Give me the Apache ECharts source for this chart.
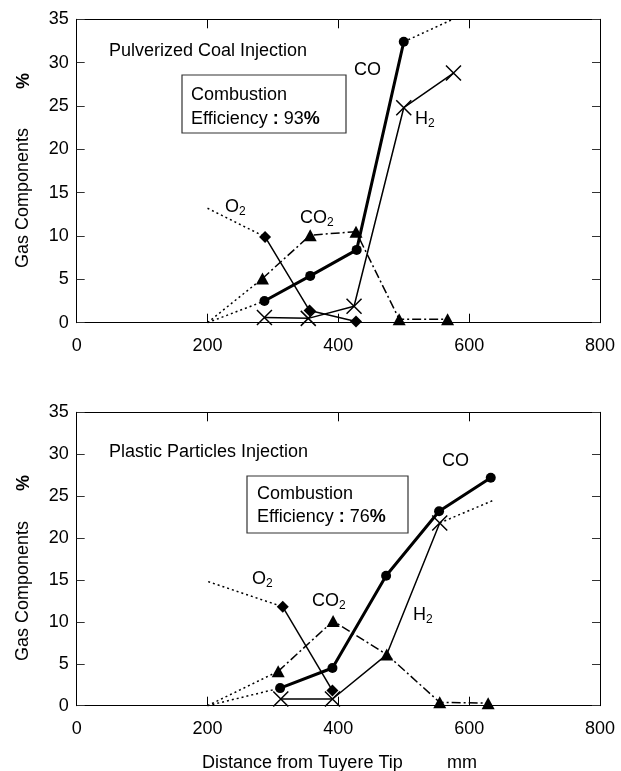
<!DOCTYPE html>
<html>
<head>
<meta charset="utf-8">
<script src="https://cdn.jsdelivr.net/npm/echarts@6/dist/echarts.min.js"></script>
<style>
  html, body { margin: 0; padding: 0; background: #fff; }
  #chart { width: 621px; height: 771px; }
</style>
</head>
<body>
<div id="chart"></div>
<script>
// x ticks (mm) and y ticks (%)
const xRange = [0, 800];
const yRange = [0, 35];

// Pulverized Coal Injection (top)
const pcO2 = [[288, 9.9], [356, 1.4], [427, 0.15]];
const pcO2Ext = [[200, 13.2], [288, 9.9]];
const pcCO2 = [[284, 5.1], [357, 10.1], [427, 10.5], [493, 0.4], [567, 0.4]];
const pcCO2Ext = [[200, 0], [284, 5.1]];
const pcCO = [[287, 2.5], [357, 5.4], [428, 8.4], [500, 32.4]];
const pcCOExtLow = [[200, 0], [287, 2.5]];
const pcCOExtHigh = [[500, 32.4], [575, 35]];
const pcH2 = [[287, 0.6], [354, 0.5], [424, 1.9], [500, 24.8], [576, 28.8]];

// Plastic Particles Injection (bottom)
const ppO2 = [[315, 11.8], [391, 1.8]];
const ppO2Ext = [[201, 14.8], [315, 11.8]];
const ppCO2 = [[308, 4.1], [392, 10.1], [474, 6.1], [555, 0.4], [629, 0.3]];
const ppCO2Ext = [[200, 0], [308, 4.1]];
const ppCO = [[311, 2.1], [391, 4.5], [473, 15.5], [554, 23.2], [633, 27.2]];
const ppCOExt = [[200, 0], [311, 2.1]];
const ppH2 = [[312, 0.8], [391, 0.8], [474, 6.1], [555, 21.8]];
const ppH2Ext = [[555, 21.8], [637, 24.5]];

const FONT = 'Liberation Sans, Arial, sans-serif';
const DOT = [2, 3];
const DASHDOT = [9, 3, 2, 3];
const CROSS = 'path://M0,0L10,10M10,0L0,10';

let myChart = echarts.init(document.getElementById('chart'));

function xAx(grid, pos) {
  return {
    gridIndex: grid, type: 'value', position: pos,
    min: xRange[0], max: xRange[1], interval: 200,
    axisLine: { show: true, onZero: false, lineStyle: { color: '#000', width: 1 } },
    axisTick: { show: true, inside: true, length: 9, lineStyle: { color: '#000' } },
    axisLabel: { show: pos === 'bottom', fontSize: 18, color: '#000', margin: 14, fontFamily: FONT },
    splitLine: { show: false }
  };
}
function yAx(grid, pos) {
  return {
    gridIndex: grid, type: 'value', position: pos,
    min: yRange[0], max: yRange[1], interval: 5,
    axisLine: { show: true, onZero: false, lineStyle: { color: '#000', width: 1 } },
    axisTick: { show: true, inside: true, length: 8, lineStyle: { color: '#333' } },
    axisLabel: { show: pos === 'left', fontSize: 18, color: '#000', margin: 8, fontFamily: FONT },
    splitLine: { show: false }
  };
}

function dotted(data, ax) {
  return {
    type: 'line', xAxisIndex: ax, yAxisIndex: ax, data: data, symbol: 'none',
    lineStyle: { color: '#000', width: 1.5, type: DOT }, z: 1, silent: true
  };
}
function o2(data, ax) {
  return {
    type: 'line', xAxisIndex: ax, yAxisIndex: ax, data: data,
    symbol: 'diamond', symbolSize: 12, itemStyle: { color: '#000' },
    lineStyle: { color: '#000', width: 1.5 }, z: 3
  };
}
function co2(data, ax) {
  return {
    type: 'line', xAxisIndex: ax, yAxisIndex: ax, data: data,
    symbol: 'triangle', symbolSize: [13, 12], itemStyle: { color: '#000' },
    lineStyle: { color: '#000', width: 1.5, type: DASHDOT }, z: 3
  };
}
function co(data, ax) {
  return {
    type: 'line', xAxisIndex: ax, yAxisIndex: ax, data: data,
    symbol: 'circle', symbolSize: 10, itemStyle: { color: '#000' },
    lineStyle: { color: '#000', width: 3 }, z: 4
  };
}
function h2(data, ax, hidden) {
  return {
    type: 'line', xAxisIndex: ax, yAxisIndex: ax,
    data: data.map((p, i) => (i === hidden ? { value: p, symbol: 'none' } : p)),
    symbol: CROSS, symbolSize: 15,
    itemStyle: { color: 'transparent', borderColor: '#000', borderWidth: 1.5 },
    lineStyle: { color: '#000', width: 1.5 }, z: 3
  };
}

function txt(x, y, text, extra) {
  return Object.assign({
    type: 'text', x: x, y: y, z: 10,
    style: Object.assign({
      text: text, fontSize: 18, fontFamily: FONT, fill: '#000',
      verticalAlign: 'middle',
      rich: {
        s: { fontSize: 12, fontFamily: FONT, fill: '#000', padding: [9, 0, 0, 0] },
        b: { fontSize: 18, fontFamily: FONT, fontWeight: 'bold', fill: '#000' }
      }
    }, extra || {})
  });
}
function box(x, y, w, h) {
  return {
    type: 'rect', z: 9, shape: { x: x, y: y, width: w, height: h },
    style: { fill: '#fff', stroke: '#333', lineWidth: 1.2 }
  };
}
function vtxt(x, y, text, bold) {
  return {
    type: 'text', x: x, y: y, rotation: Math.PI / 2, z: 10,
    style: {
      text: text, fontSize: 18, fontFamily: FONT, fill: '#000',
      fontWeight: bold ? 'bold' : 'normal', align: 'center', verticalAlign: 'middle'
    }
  };
}

let option = {
  animation: false,
  backgroundColor: '#fff',
  grid: [
    { left: 76.7, top: 19.3, width: 523.3, height: 303.4 },
    { left: 76.7, top: 412.3, width: 523.3, height: 293.4 }
  ],
  xAxis: [xAx(0, 'bottom'), xAx(0, 'top'), xAx(1, 'bottom'), xAx(1, 'top')],
  yAxis: [yAx(0, 'left'), yAx(0, 'right'), yAx(1, 'left'), yAx(1, 'right')],
  series: [
    dotted(pcO2Ext, 0), dotted(pcCO2Ext, 0), dotted(pcCOExtLow, 0), dotted(pcCOExtHigh, 0),
    o2(pcO2, 0), co2(pcCO2, 0), h2(pcH2, 0, -1), co(pcCO, 0),
    dotted(ppO2Ext, 2), dotted(ppCO2Ext, 2), dotted(ppCOExt, 2), dotted(ppH2Ext, 2),
    o2(ppO2, 2), co2(ppCO2, 2), h2(ppH2, 2, 2), co(ppCO, 2)
  ],
  graphic: [
    // top panel
    txt(109, 51, 'Pulverized Coal Injection'),
    box(182, 75, 164, 58),
    txt(191, 95, 'Combustion'),
    txt(191, 119, 'Efficiency {b|:} 93{b|%}'),
    txt(354, 70, 'CO'),
    txt(415, 119, 'H{s|2}'),
    txt(225, 207, 'O{s|2}'),
    txt(300, 218, 'CO{s|2}'),
    vtxt(23, 198, 'Gas Components'),
    vtxt(24, 81, '%', true),
    // bottom panel
    txt(109, 452, 'Plastic Particles Injection'),
    box(247, 476, 161, 57),
    txt(257, 494, 'Combustion'),
    txt(257, 517, 'Efficiency {b|:} 76{b|%}'),
    txt(442, 461, 'CO'),
    txt(413, 615, 'H{s|2}'),
    txt(252, 579, 'O{s|2}'),
    txt(312, 601, 'CO{s|2}'),
    vtxt(23, 591, 'Gas Components'),
    vtxt(24, 483, '%', true),
    txt(202, 763, 'Distance from Tuyere Tip'),
    txt(447, 763, 'mm')
  ]
};

myChart.setOption(option);
</script>
</body>
</html>
